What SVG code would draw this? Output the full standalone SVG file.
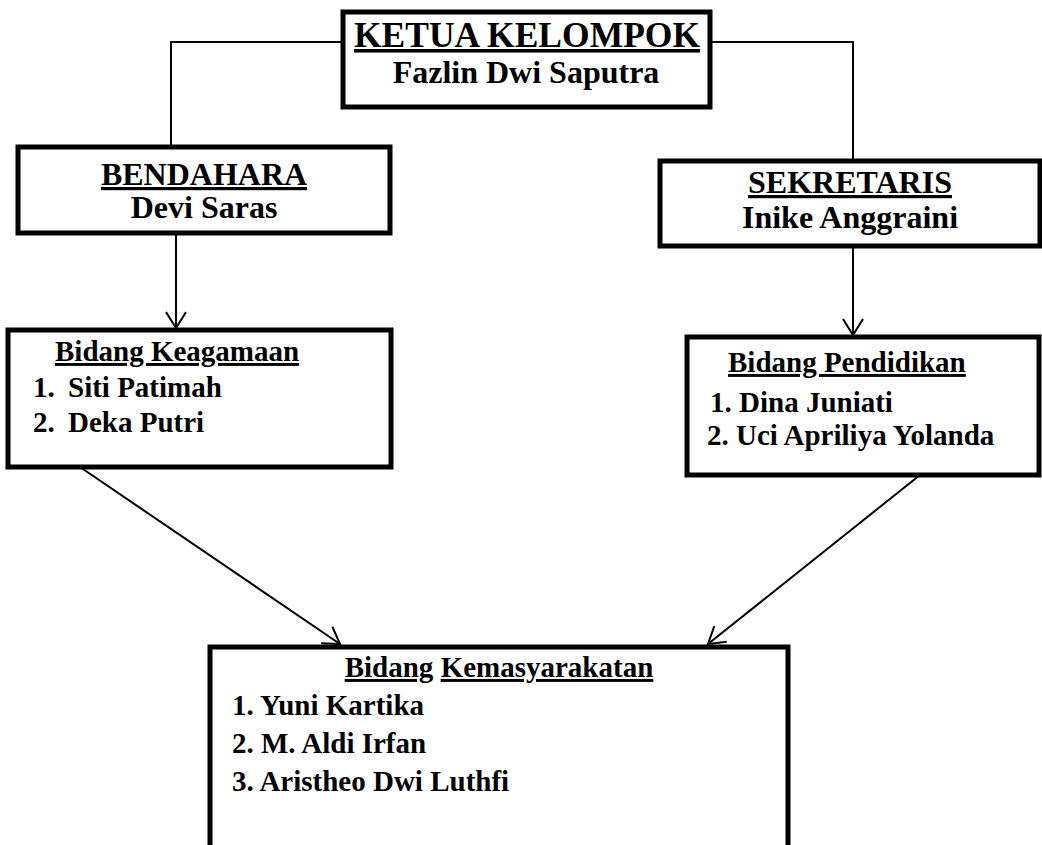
<svg xmlns="http://www.w3.org/2000/svg" width="1042" height="845" viewBox="0 0 1042 845">
<style>
.box{fill:#fff;stroke:#000;stroke-width:5}
.ln{fill:none;stroke:#000;stroke-width:2}
text{font-family:"Liberation Serif","Times New Roman",serif;font-weight:bold;fill:#000}
.u{text-decoration:underline}
.c{text-anchor:middle}
</style>
<defs>
<marker id="ah" markerUnits="userSpaceOnUse" markerWidth="24" markerHeight="24" viewBox="0 0 24 24" refX="22" refY="12" orient="auto">
<path d="M6,2 L22,12 L6,22" fill="none" stroke="#000" stroke-width="2"/>
</marker>
</defs>
<rect width="1042" height="845" fill="#fff"/>
<g id="connectors">
<polyline class="ln" points="343,42 171,42 171,147"/>
<polyline class="ln" points="710,42 853,42 853,161"/>
<line class="ln" x1="176" y1="233" x2="176" y2="328" marker-end="url(#ah)"/>
<line class="ln" x1="853" y1="246" x2="853" y2="335" marker-end="url(#ah)"/>
<line class="ln" x1="80" y1="467" x2="340" y2="644" marker-end="url(#ah)"/>
<line class="ln" x1="920" y1="475" x2="708" y2="644" marker-end="url(#ah)"/>
</g>
<g id="ketua">
<rect class="box" x="343" y="12" width="367" height="95"/>
<text class="c u" x="527" y="47" font-size="35.5">KETUA KELOMPOK</text>
<text class="c" x="526" y="83" font-size="32">Fazlin Dwi Saputra</text>
</g>
<g id="bendahara">
<rect class="box" x="18" y="147" width="372" height="86"/>
<text class="c u" x="204" y="185" font-size="32">BENDAHARA</text>
<text class="c" x="204" y="218" font-size="32">Devi Saras</text>
</g>
<g id="sekretaris">
<rect class="box" x="660" y="161" width="380" height="85"/>
<text class="c u" x="850" y="193" font-size="32">SEKRETARIS</text>
<text class="c" x="850" y="228" font-size="32">Inike Anggraini</text>
</g>
<g id="keagamaan">
<rect class="box" x="8" y="330" width="383" height="137"/>
<text class="u" x="55" y="361" font-size="29">Bidang Keagamaan</text>
<text x="33" y="397" font-size="29">1.<tspan x="68">Siti Patimah</tspan></text>
<text x="33" y="432" font-size="29">2.<tspan x="68">Deka Putri</tspan></text>
</g>
<g id="pendidikan">
<rect class="box" x="687" y="337" width="352" height="138"/>
<text class="u" x="728" y="372" font-size="29">Bidang Pendidikan</text>
<text x="710" y="412" font-size="29">1. Dina Juniati</text>
<text x="707" y="445" font-size="29">2. Uci Apriliya Yolanda</text>
</g>
<g id="kemasyarakatan">
<rect class="box" x="210" y="647" width="578" height="215"/>
<text class="c" x="499" y="677" font-size="29"><tspan class="u">Bidang</tspan> <tspan class="u">Kemasyarakatan</tspan></text>
<text x="232" y="715" font-size="29">1. Yuni Kartika</text>
<text x="232" y="753" font-size="29">2. M. Aldi Irfan</text>
<text x="232" y="791" font-size="29">3. Aristheo Dwi Luthfi</text>
</g>
</svg>
